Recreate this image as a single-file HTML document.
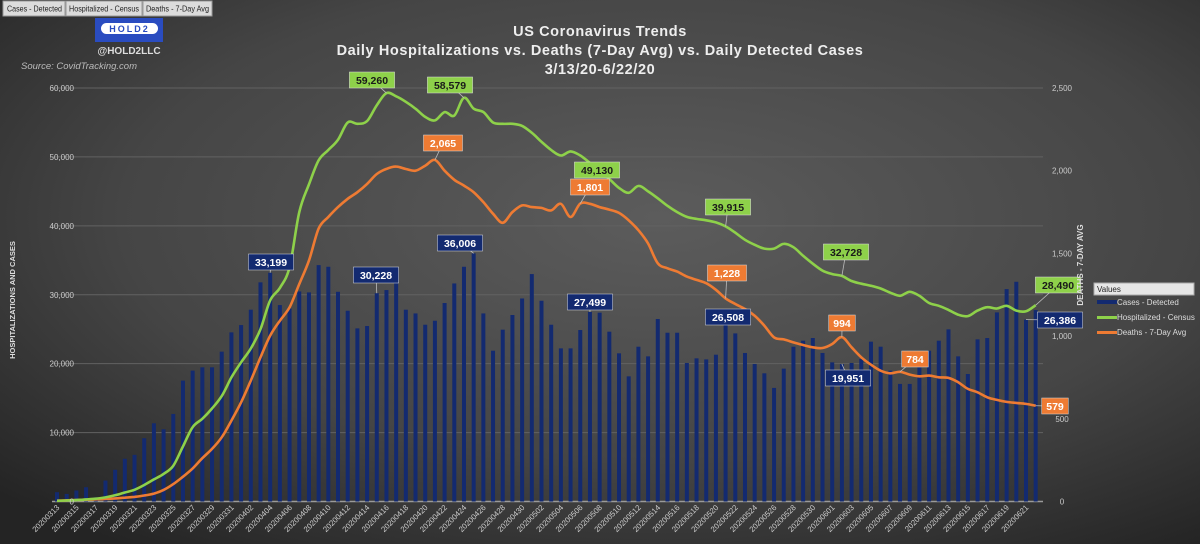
<!DOCTYPE html>
<html><head><meta charset="utf-8">
<style>
html,body{margin:0;padding:0;width:1200px;height:544px;overflow:hidden;background:#2a2a2a;}
svg{display:block;font-family:"Liberation Sans",sans-serif;}
</style></head>
<body>
<svg id="chart" width="1200" height="544" viewBox="0 0 1200 544" xmlns="http://www.w3.org/2000/svg">
<defs>
<radialGradient id="bg" cx="0.55" cy="0.4" r="0.75">
<stop offset="0" stop-color="#5c5c5c"/><stop offset="0.6" stop-color="#454545"/><stop offset="1" stop-color="#242424"/>
</radialGradient>
</defs>
<rect x="0" y="0" width="1200" height="544" fill="url(#bg)"/>
<g font-size="8.5" fill="#222">
<rect x="3" y="1" width="62" height="15" fill="#dcdcdc" stroke="#999"/>
<text x="7" y="11.5" textLength="55" lengthAdjust="spacingAndGlyphs">Cases - Detected</text>
<rect x="66" y="1" width="76" height="15" fill="#dcdcdc" stroke="#999"/>
<text x="69" y="11.5" textLength="70" lengthAdjust="spacingAndGlyphs">Hospitalized - Census</text>
<rect x="143" y="1" width="69" height="15" fill="#dcdcdc" stroke="#999"/>
<text x="146" y="11.5" textLength="63" lengthAdjust="spacingAndGlyphs">Deaths - 7-Day Avg</text>
</g>
<g>
<rect x="95" y="18" width="68" height="24" fill="#2a4cc0"/>
<rect x="101" y="23" width="57" height="11" rx="5.5" fill="#fff"/>
<text x="129.5" y="32" text-anchor="middle" font-size="9" font-weight="bold" fill="#2a4cc0" letter-spacing="2">HOLD2</text>
</g>
<text x="129" y="54" text-anchor="middle" font-size="10" font-weight="bold" fill="#ddd">@HOLD2LLC</text>
<text x="21" y="69" font-size="9.5" font-style="italic" fill="#bbb">Source: CovidTracking.com</text>
<g font-size="14.5" font-weight="bold" fill="#eee" text-anchor="middle" letter-spacing="0.6">
<text x="600" y="36">US Coronavirus Trends</text>
<text x="600" y="55">Daily Hospitalizations vs. Deaths (7-Day Avg) vs. Daily Detected Cases</text>
<text x="600" y="74">3/13/20-6/22/20</text>
</g>
<g id="grid"></g><g id="bars"></g><g id="lines"></g><g id="axes"></g><g id="labels"></g>
<text transform="translate(15,300) rotate(-90)" text-anchor="middle" font-size="7.5" font-weight="bold" fill="#ddd">HOSPITALIZATIONS AND  CASES</text>
<text transform="translate(1083,265) rotate(-90)" text-anchor="middle" font-size="8" font-weight="bold" fill="#ddd">DEATHS - 7-DAY AVG</text>
<g font-size="8" fill="#ddd">
<rect x="1094" y="283" width="100" height="12" fill="#e6e6e6" stroke="#aaa"/>
<text x="1097" y="292" fill="#222">Values</text>
<rect x="1097" y="300" width="20" height="4" fill="#132a70"/>
<text x="1117" y="305">Cases - Detected</text>
<rect x="1097" y="316" width="20" height="3" fill="#8ed14a"/>
<text x="1117" y="320">Hospitalized - Census</text>
<rect x="1097" y="331" width="20" height="3" fill="#ee7b33"/>
<text x="1117" y="335">Deaths - 7-Day Avg</text>
</g>
</svg>
<script>
const cases = [1350,1100,1600,2070,620,3040,4600,6200,6770,9180,11350,10480,12700,17540,18990,19470,19470,21740,24540,25600,27830,31800,33199,28500,28000,30480,30340,34300,34060,30430,27680,25120,25460,30228,30680,31780,27830,27290,25650,26230,28800,31640,34060,36006,27290,21880,24930,27060,29460,33000,29130,25650,22220,22220,24880,27499,27400,24640,21500,18160,22460,21060,26480,24490,24490,20100,20770,20620,21300,26508,24390,21550,19950,18600,16480,19280,22460,23330,23720,21550,20190,19951,20100,20680,23190,22460,18990,17060,17060,19470,21880,23330,24980,21060,18500,23530,23720,27440,30820,31880,26386,27780];
const hospitalized = [100,150,200,300,400,600,900,1300,1700,2400,3200,4000,5200,8000,10800,12000,13500,15300,18000,20200,22200,25000,29200,31000,34000,42000,46000,49500,51000,52500,55000,54800,55200,57500,59260,58800,58000,57000,55800,55300,56500,56000,58579,57000,56500,55000,54800,54800,54500,53500,52200,51000,50200,50800,50200,49130,48000,46800,45500,44800,45800,45000,44000,42900,42000,41300,41000,40800,40500,39915,39000,37970,37250,36700,36700,37400,36900,35650,34500,33500,33000,32728,32000,31600,31300,30900,30300,29850,30430,29850,28800,28400,27800,27100,26900,27700,28200,28000,28400,27700,27600,28490];
const deaths = [5,7,9,11,13,16,19,23,28,36,48,70,105,150,200,262,318,388,489,600,731,872,1003,1093,1174,1315,1456,1650,1720,1780,1830,1870,1920,1980,2011,2025,2010,2000,2030,2065,2000,1945,1910,1870,1810,1740,1685,1750,1790,1780,1775,1760,1800,1720,1801,1800,1780,1765,1745,1700,1640,1560,1440,1410,1390,1360,1340,1320,1280,1228,1194,1164,1123,1063,992,980,962,946,932,928,952,994,932,872,827,791,775,784,767,757,761,751,747,721,681,660,630,614,602,596,590,579];
const leftTicks = [0,10000,20000,30000,40000,50000,60000];
const rightTicks = [0,500,1000,1500,2000,2500];
const startDate = [2020,3,13];

const NS="http://www.w3.org/2000/svg";
const X0=57, XSTEP=9.69, Y0=501.5, YTOP=88;
const xs=i=>X0+i*XSTEP;
const yL=v=>Y0-(v/60000)*(Y0-YTOP);
const yR=v=>Y0-(v/2500)*(Y0-YTOP);
function mk(tag,parent,attrs){const e=document.createElementNS(NS,tag);for(const k in attrs)e.setAttribute(k,attrs[k]);parent.appendChild(e);return e;}
const fmt=v=>v.toLocaleString('en-US');
const gGrid=document.getElementById('grid'),gBars=document.getElementById('bars'),gLines=document.getElementById('lines'),gAxes=document.getElementById('axes'),gLab=document.getElementById('labels');

leftTicks.forEach(t=>{
  const l=mk('line',gGrid,{x1:52,x2:1043,y1:yL(t),y2:yL(t),stroke:t===0?'#9a9a9a':'#626262','stroke-width':t===0?1.5:1});
  
  
  const tx=mk('text',gAxes,{x:74,y:yL(t)+3,'text-anchor':'end','font-size':8,fill:'#ccc'});
  tx.textContent=fmt(t);
  
  
});
rightTicks.forEach(t=>{
  const tx=mk('text',gAxes,{x:1062,y:yR(t)+3,'text-anchor':'middle','font-size':8,fill:'#ccc'});
  tx.textContent=fmt(t);
  
  
});
cases.forEach((v,i)=>{
  const r=mk('rect',gBars,{x:xs(i)-2,y:yL(v),width:4,height:Y0-yL(v),fill:'#132a70'});
  
  
});
function smooth(pts){let d='M'+pts[0][0]+','+pts[0][1];for(let i=0;i<pts.length-1;i++){const p0=pts[i-1]||pts[i],p1=pts[i],p2=pts[i+1],p3=pts[i+2]||p2;const c1=[p1[0]+(p2[0]-p0[0])/6,p1[1]+(p2[1]-p0[1])/6],c2=[p2[0]-(p3[0]-p1[0])/6,p2[1]-(p3[1]-p1[1])/6];d+=` C${c1[0].toFixed(1)},${c1[1].toFixed(1)} ${c2[0].toFixed(1)},${c2[1].toFixed(1)} ${p2[0].toFixed(1)},${p2[1].toFixed(1)}`;}return d;}
const pd=mk('path',gLines,{d:smooth(deaths.map((v,i)=>[xs(i),yR(v)])),fill:'none',stroke:'#ee7b33','stroke-width':2.6});


const ph=mk('path',gLines,{d:smooth(hospitalized.map((v,i)=>[xs(i),yL(v)])),fill:'none',stroke:'#8ed14a','stroke-width':2.6});



const d0=new Date(startDate[0],startDate[1]-1,startDate[2]);
for(let i=0;i<cases.length;i+=2){
  const d=new Date(d0.getTime()+i*86400000);
  const s=''+d.getFullYear()+String(d.getMonth()+1).padStart(2,'0')+String(d.getDate()).padStart(2,'0');
  const x=xs(i)+3,y=508;
  const t=mk('text',gAxes,{x:x,y:y,'text-anchor':'end','font-size':7.8,fill:'#ccc',transform:`rotate(-45 ${x} ${y})`});
  t.textContent=s;
  
  
}
const hospCallouts=[[34,372,80],[42,450,85],[55,597,170],[69,728,207],[81,846,252],[101,1058,285]];
const deathCallouts=[[39,443,143],[54,590,187],[69,727,273],[81,842,323],[87,915,359],[101,1055,406]];
const caseCallouts=[[22,271,262],[33,376,275],[43,460,243],[55,590,302],[69,728,317],[81,848,378],[100,1060,320]];
function callout(arr,vals,yf,bg,fg,name){
  arr.forEach(([i,cx,cy])=>{
    const txt=fmt(vals[i]);const w=txt.length*6.2+8;
    const ln=mk('line',gLab,{x1:cx,y1:cy,x2:xs(i),y2:yf(vals[i]),stroke:'#bbb','stroke-width':0.8});
    
    
    const r=mk('rect',gLab,{x:cx-w/2,y:cy-8,width:w,height:16,fill:bg,stroke:'#ddd','stroke-width':0.5});
    
    
    const t=mk('text',gLab,{x:cx,y:cy+4,'text-anchor':'middle','font-size':10.5,'font-weight':'bold',fill:fg});
    t.textContent=txt;
    
    
  });
}
callout(hospCallouts,hospitalized,yL,'#8ed14a','#1a1a1a','hospitalized-callout');
callout(deathCallouts,deaths,yR,'#ee7b33','#fff','deaths-callout');
callout(caseCallouts,cases,yL,'#132a70','#fff','cases-callout');
</script>
</body></html>
